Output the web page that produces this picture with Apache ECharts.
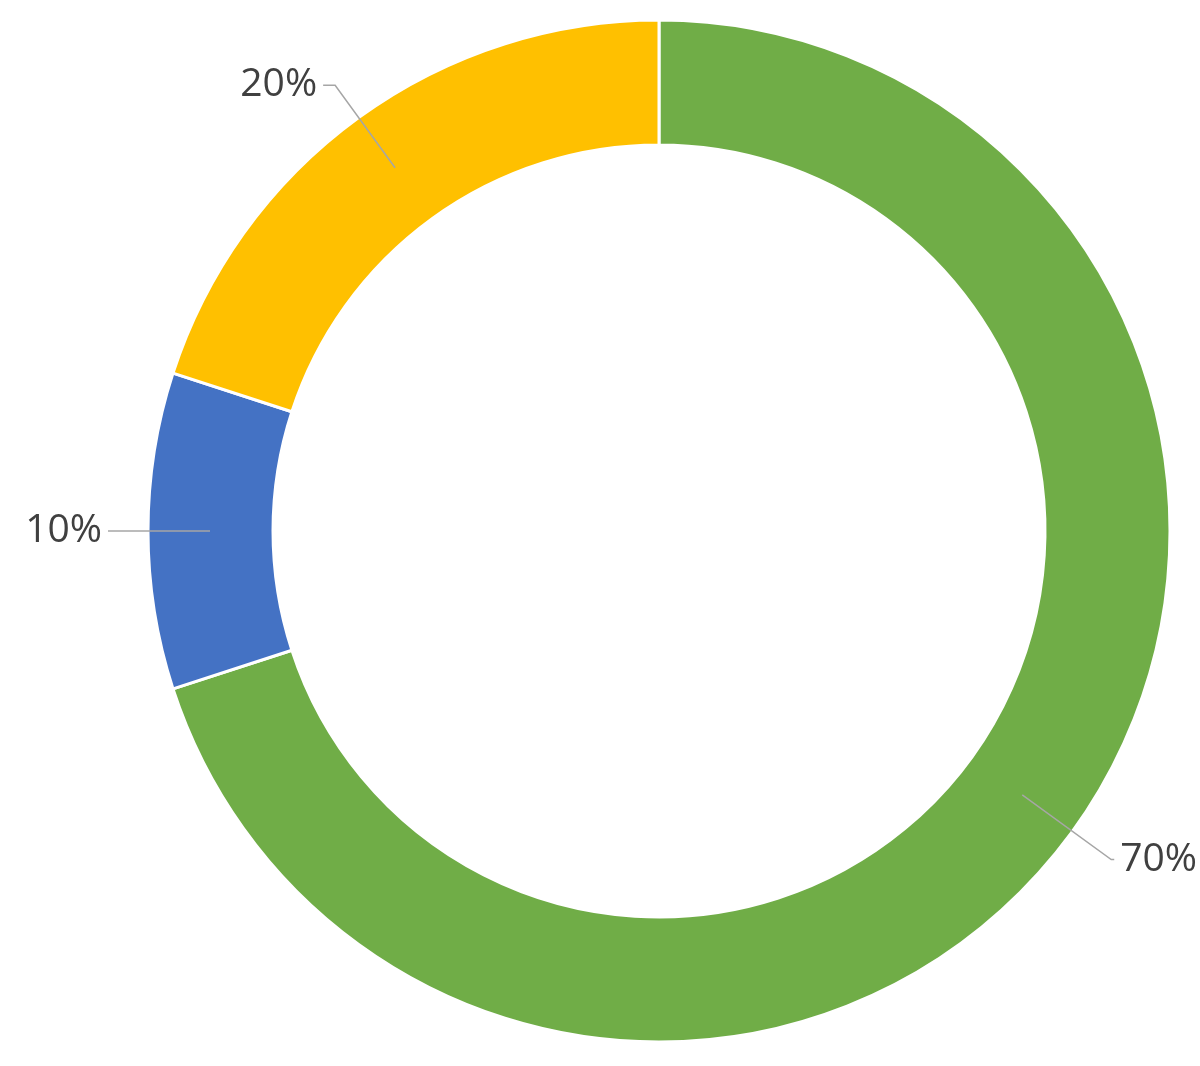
<!DOCTYPE html>
<html>
<head>
<meta charset="utf-8">
<script src="https://cdn.jsdelivr.net/npm/echarts@6/dist/echarts.min.js"></script>
<style>
html,body{margin:0;padding:0;background:#fff;}
#chart{width:1200px;height:1066px;}
</style>
</head>
<body>
<div id="chart"></div>
<script>
const categories = ['Green', 'Blue', 'Yellow'];
const values = [70, 10, 20];
const colors = ['#70AD47', '#4472C4', '#FFC000'];
const labelTexts = ['70%', '10%', '20%'];

const chart = echarts.init(document.getElementById('chart'), null, {renderer: 'canvas'});

const lineLengths = [{length: 110, length2: 3}, {length: 100, length2: 2}, {length: 102, length2: 12}];

const ringData = categories.map((c, i) => ({name: c, value: values[i], itemStyle: {color: colors[i]}}));
const labelData = categories.map((c, i) => ({
  name: c, value: values[i],
  label: {formatter: labelTexts[i]},
  labelLine: lineLengths[i]
}));

chart.setOption({
  animation: false,
  series: [
    {
      type: 'pie',
      center: [659, 531],
      radius: [386, 511],
      startAngle: 90,
      clockwise: true,
      avoidLabelOverlap: false,
      silent: true,
      label: {show: false},
      labelLine: {show: false},
      itemStyle: {borderColor: '#ffffff', borderWidth: 3},
      data: ringData
    },
    {
      type: 'pie',
      center: [659, 531],
      radius: [0, 449],
      startAngle: 90,
      clockwise: true,
      avoidLabelOverlap: false,
      silent: true,
      z: 5,
      itemStyle: {color: 'rgba(0,0,0,0)'},
      label: {
        show: true,
        position: 'outside',
        alignTo: 'none',
        distanceToLabelLine: 6,
        fontFamily: 'Open Sans',
        fontSize: 39,
        color: '#404040'
      },
      labelLine: {
        show: true,
        lineStyle: {color: '#a6a6a6', width: 1.5}
      },
      data: labelData
    }
  ]
});
</script>
</body>
</html>
